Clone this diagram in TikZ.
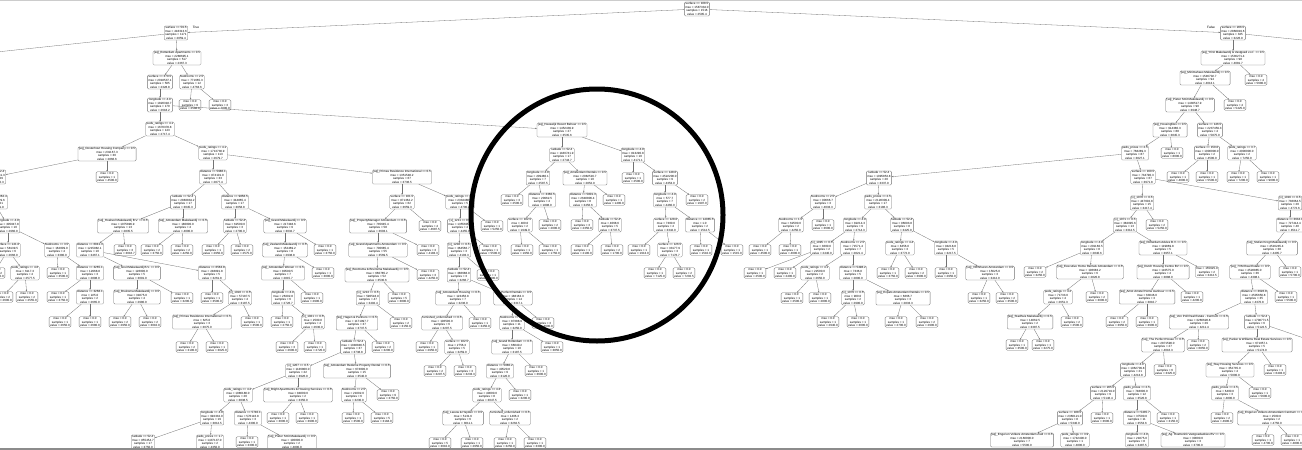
\documentclass[tikz,border=0pt]{standalone}
\usepackage{fontspec}
\setmainfont{Liberation Sans}
\usetikzlibrary{arrows.meta}
\tikzset{
 tn/.style={draw=black!55, line width=0.3pt, rounded corners=1.3pt, align=center, inner xsep=1pt, inner ysep=0.7pt, font=\fontsize{3}{3.5}\selectfont, fill=white},
 edge/.style={draw=black!55, line width=0.3pt, -{Stealth[length=1.6pt,width=1.3pt]}},
 elabel/.style={font=\fontsize{3.2}{3.6}\selectfont, inner sep=0.5pt},
 ring/.style={draw=black, line width=5pt},
}
\newcommand\IN[7]{\node[tn] (#1) at (#2,#3) {#4\\mse = #5\\samples = #6\\value = #7};}
\newcommand\LF[6]{\node[tn] (#1) at (#2,#3) {mse = #4\\samples = #5\\value = #6};}
\begin{document}
\begin{tikzpicture}[x=1pt,y=-1pt]
\useasboundingbox (0,0) rectangle (1302,450);
\clip (0,0) rectangle (1302,450);
\fill[white] (0,0) rectangle (1302,450);
% root
\IN{R}{697}{9}{surface <= 108.5}{1587334.0}{1516}{2595.4}
\IN{La}{176}{33}{surface <= 59.5}{418313.6}{1171}{2059.4}
\IN{Ra}{1233}{33}{surface <= 206.5}{2868919.6}{345}{3226.9}
\node[elabel] (tlab) at (196,27) {True};
\node[elabel] (flab) at (1211,27) {False};
\coordinate (oL1) at (-60,58);
\coordinate (oR1) at (1500,60);
\coordinate (oR2) at (1340,226);
\coordinate (oR3) at (1345,250);
\coordinate (oR4) at (1330,347);
% left part
\IN{a1}{177}{58}{[sq]\_Rotterdam Apartments <= 0.5}{2288695.1}{517}{2367.3}
\IN{a2}{160}{82}{surface <= 379.5}{2018537.1}{505}{2328.8}
\IN{a3}{192}{82}{bedrooms <= 2.5}{771665.3}{12}{4763.6}
\LF{a4}{190}{105}{0.0}{9}{2588.9}
\LF{a5}{220}{105}{0.0}{3}{7000.0}
\IN{a6}{160}{105}{longitude <= 4.9}{1820318.7}{170}{2618.2}
\IN{a7}{160}{129}{peds\_ratings <= 4.1}{1670378.8}{143}{2717.4}
\IN{a8}{107}{154}{[sq]\_Oosterhout Housing Company <= 0.5}{231167.3}{30}{2866.6}
\IN{a9}{213}{153}{peds\_ratings <= 4.1}{1713730.9}{113}{2679.7}
\LF{a10}{107}{177}{0.0}{1}{4500.0}
\IN{a11}{-6}{177}{latitude <= 52.4}{192581.3}{29}{2810.3}
\IN{a12}{-6}{202}{distance <= 4062.4}{165329.6}{21}{2741.9}
\IN{a13}{8}{226}{longitude <= 4.9}{305047.8}{10}{2960.0}
\IN{a14}{8}{250}{surface <= 141.0}{58139.5}{6}{2666.0}
\IN{a15}{57}{250}{bedrooms <= 3.5}{162009.0}{4}{3380.0}
\LF{a16}{-6}{273}{0.0}{2}{2750.0}
\IN{a17}{25}{273}{peds\_ratings <= 4.6}{6117.3}{4}{2577.5}
\LF{a18}{58}{273}{0.0}{1}{3500.0}
\IN{a19}{90}{273}{distance <= 3265.1}{12968.8}{3}{2898.0}
\LF{a20}{2}{297}{0.0}{2}{2600.0}
\LF{a21}{27}{297}{0.0}{2}{2555.0}
\LF{a22}{58}{297}{0.0}{1}{3750.0}
\IN{a23}{90}{297}{distance <= 3268.1}{225.0}{2}{2665.0}
\LF{a24}{60}{322}{0.0}{1}{2650.0}
\LF{a25}{90}{322}{0.0}{1}{2680.0}
\IN{b1}{213}{177}{distance <= 5986.1}{874101.0}{33}{2877.4}
\IN{b2}{402}{177}{[sq]\_Primas Residence International <= 0.5}{1351548.2}{67}{3736.5}
\IN{b3}{183}{202}{latitude <= 52.4}{2883834.2}{17}{3045.3}
\IN{b4}{235}{202}{distance <= 9858.5}{344865.4}{17}{3058.8}
\IN{b5}{123}{226}{[sq]\_Hoekvel Makelaardij B.V. <= 0.5}{1075896.9}{13}{2835.5}
\IN{b6}{183}{226}{[sq]\_Amsterdam Makelaardij <= 0.5}{180000.0}{4}{4000.0}
\IN{b7}{235}{226}{latitude <= 52.4}{62500.0}{3}{2700.0}
\IN{b8}{285}{226}{[sq]\_Grand Makelaardij <= 0.5}{217348.6}{9}{3032.7}
\IN{b9}{90}{250}{distance <= 6041.3}{1215982.1}{10}{3467.1}
\LF{b10}{125}{250}{0.0}{3}{3016.7}
\LF{b11}{152}{250}{0.0}{2}{3750.0}
\LF{b12}{182}{250}{0.0}{2}{4250.0}
\LF{b13}{213}{250}{0.0}{1}{2950.0}
\LF{b14}{242}{250}{0.0}{2}{2575.0}
\IN{b15}{285}{250}{[sq]\_Zeeland Makelaardij <= 0.5}{152469.2}{8}{2938.8}
\LF{b16}{325}{250}{0.0}{1}{3750.0}
\IN{b17}{137}{273}{[sq]\_Gruit Makelaardij B.V. <= 0.5}{126000.0}{5}{3091.0}
\IN{b18}{212}{273}{distance <= 6563.8}{248891.8}{5}{3261.8}
\IN{b19}{283}{273}{[sq]\_Amsterdam Wonen <= 0.5}{80590.5}{7}{2815.7}
\LF{b20}{323}{273}{0.0}{1}{3000.0}
\IN{b21}{137}{297}{[sq]\_Bruinsma Makelaardij <= 0.5}{31875.0}{4}{2980.0}
\LF{b22}{182}{298}{0.0}{1}{3200.0}
\LF{b23}{212}{298}{0.0}{1}{3500.0}
\IN{b24}{240}{298}{[x]\_1018 <= 0.5}{57187.5}{4}{3187.5}
\IN{b25}{283}{298}{longitude <= 4.9}{26302.8}{6}{2726.7}
\LF{b26}{312}{298}{0.0}{1}{2900.0}
\LF{b27}{120}{322}{0.0}{2}{2950.0}
\LF{b28}{150}{322}{0.0}{2}{3010.0}
\IN{b29}{202}{322}{[sq]\_Primas Residence International <= 0.5}{625.0}{3}{3075.0}
\LF{b30}{252}{322}{0.0}{1}{3500.0}
\LF{b31}{282}{322}{0.0}{1}{2750.0}
\IN{b32}{313}{322}{[x]\_1021 <= 0.5}{2500.0}{4}{2630.0}
\LF{b33}{187}{347}{0.0}{2}{3100.0}
\LF{b34}{217}{347}{0.0}{1}{3025.0}
\LF{b35}{287}{347}{0.0}{3}{2600.0}
\LF{b36}{315}{347}{0.0}{1}{2720.0}
\IN{c1}{402}{202}{surface <= 101.5}{871362.2}{62}{3659.3}
\IN{c2}{460}{202}{peds\_ratings <= 4.6}{2334480.0}{5}{4700.0}
\IN{c3}{378}{226}{[sq]\_PropertyManager Amsterdam <= 0.5}{735645.4}{58}{3603.1}
\LF{c4}{430}{226}{0.0}{4}{4687.5}
\IN{c5}{460}{226}{[x]\_1211 <= 0.5}{1355605.6}{4}{4455.0}
\LF{c6}{492}{226}{0.0}{1}{5250.0}
\IN{c7}{378}{250}{[sq]\_Grand Apartments Amsterdam <= 0.5}{700685.4}{55}{3569.5}
\LF{c8}{428}{250}{0.0}{3}{4183.3}
\IN{c9}{459}{250}{[x]\_1204 <= 0.5}{364566.7}{3}{4103.3}
\LF{c10}{490}{250}{0.0}{1}{5500.0}
\IN{c11}{377}{275}{[sq]\_Boomsma \& Bruinsma Makelaardij <= 0.5}{660785.2}{52}{3530.6}
\LF{c12}{428}{275}{0.0}{3}{4250.0}
\IN{c13}{459}{275}{latitude <= 52.4}{386688.9}{3}{3266.7}
\LF{c14}{488}{275}{0.0}{1}{3900.0}
\IN{c15}{368}{298}{[x]\_1213 <= 0.5}{590518.9}{47}{3492.4}
\LF{c16}{399}{298}{0.0}{5}{3890.0}
\IN{c17}{458}{298}{[sq]\_Amsterdam Housing <= 0.5}{123456.8}{7}{3236.0}
\IN{c18}{513}{298}{[sq]\_Perfect Rentals <= 0.5}{188163.3}{14}{3317.1}
\IN{c19}{357}{323}{[sq]\_Hagen \& Partners <= 0.5}{1171997.7}{37}{3737.5}
\LF{c20}{401}{323}{0.0}{2}{3150.0}
\IN{c21}{442}{323}{furnished\_unfurnished <= 0.5}{106500.0}{6}{3207.5}
\LF{c22}{480}{323}{0.0}{1}{3450.0}
\IN{c23}{512}{323}{bedrooms <= 2.5}{87388.9}{11}{3250.0}
\LF{c24}{543}{323}{0.0}{3}{3600.0}
\IN{c25}{353}{347}{latitude <= 52.4}{1048846.5}{37}{3738.8}
\LF{c26}{383}{347}{0.0}{2}{3200.0}
\LF{c27}{427}{347}{0.0}{1}{2950.0}
\IN{c28}{457}{347}{surface <= 102.5}{2756.3}{5}{3259.0}
\IN{c29}{512}{347}{[sq]\_Grand Rotterdam <= 0.5}{66040.2}{10}{3187.5}
\LF{c30}{552}{347}{0.0}{1}{3850.0}
\IN{c31}{298}{371}{[x]\_1207 <= 0.5}{1136800.0}{22}{3926.9}
\IN{c32}{357}{371}{[sq]\_Amsterdam Rederne Property Rental <= 0.5}{673000.0}{15}{3540.0}
\LF{c33}{435}{371}{0.0}{2}{3297.5}
\LF{c34}{465}{371}{0.0}{3}{3233.3}
\IN{c35}{500}{371}{distance <= 5080.2}{40520.8}{9}{3120.0}
\LF{c36}{536}{371}{0.0}{1}{3600.0}
\IN{c37}{238}{395}{peds\_ratings <= 4.2}{1086180.0}{20}{3838.5}
\IN{c38}{298}{395}{[sq]\_Bright Apartments \& Housing Services <= 0.5}{84000.0}{2}{3350.0}
\IN{c39}{354}{395}{bedrooms <= 2.5}{21002.0}{6}{3230.0}
\LF{c40}{388}{395}{0.0}{9}{3750.0}
\IN{c41}{487}{395}{peds\_ratings <= 4.3}{40000.0}{8}{3047.5}
\LF{c42}{520}{395}{0.0}{1}{3200.0}
\IN{c43}{212}{418}{longitude <= 4.9}{992332.0}{19}{3812.5}
\IN{c44}{248}{418}{distance <= 5740.1}{576116.8}{3}{4300.0}
\LF{c45}{278}{418}{0.0}{1}{3000.0}
\LF{c46}{307}{418}{0.0}{1}{3900.0}
\LF{c47}{353}{418}{0.0}{1}{3500.0}
\LF{c48}{382}{418}{0.0}{5}{3184.0}
\IN{c49}{463}{418}{[sq]\_Leeuw \& Heyden <= 0.5}{5131.6}{6}{3011.1}
\IN{c50}{510}{418}{furnished\_unfurnished <= 0.5}{1406.3}{2}{3262.5}
\IN{c51}{143}{442}{latitude <= 52.4}{855454.7}{17}{3750.0}
\IN{c52}{210}{442}{peds\_prices <= 1.7}{1437137.0}{2}{4350.0}
\LF{c53}{247}{442}{0.0}{1}{3300.0}
\IN{c54}{292}{442}{[sq]\_Pieter Smit Makelaardij <= 0.5}{100000.0}{2}{4800.0}
\LF{c55}{440}{443}{0.0}{5}{3010.0}
\LF{c56}{472}{443}{0.0}{1}{2950.0}
\LF{c57}{505}{443}{0.0}{1}{3250.0}
\LF{c58}{535}{443}{0.0}{1}{3300.0}
% circle region
\IN{d1}{562}{130}{[sq]\_Heeswijk Resort Beheer <= 0.5}{1452439.9}{27}{3535.6}
\IN{d2}{562}{155}{latitude <= 52.4}{1180741.9}{17}{2743.7}
\IN{d3}{633}{155}{longitude <= 4.9}{813290.8}{10}{4171.1}
\IN{d4}{538}{178}{longitude <= 4.9}{209480.1}{7}{2587.5}
\IN{d5}{585}{178}{[sq]\_Amsterdam Rentals <= 0.5}{2082516.7}{10}{2852.9}
\LF{d6}{633}{178}{0.0}{1}{2500.0}
\IN{d7}{665}{178}{surface <= 148.0}{4522200.0}{9}{4353.0}
\LF{d8}{512}{200}{0.0}{3}{2500.0}
\IN{d9}{542}{200}{distance <= 3360.5}{20962.5}{4}{1898.0}
\IN{d10}{583}{200}{distance <= 5801.3}{2640806.4}{8}{3456.6}
\LF{d11}{614}{200}{0.0}{1}{1400.0}
\IN{d12}{665}{200}{longitude <= 4.9}{577.7}{7}{4460.0}
\LF{d13}{697}{200}{0.0}{2}{1997.0}
\IN{d14}{520}{225}{surface <= 102.5}{400.0}{2}{1949.0}
\LF{d15}{550}{225}{0.0}{2}{2000.0}
\LF{d16}{582}{225}{0.0}{3}{2350.0}
\IN{d17}{610}{225}{latitude <= 52.4}{4068.6}{5}{3737.5}
\IN{d18}{666}{225}{surface <= 128.0}{7300.0}{4}{3342.0}
\IN{d19}{700}{225}{distance <= 14085.5}{1.0}{2}{1512.5}
\LF{d20}{522}{250}{0.0}{1}{1950.0}
\LF{d21}{550}{250}{0.0}{1}{1750.0}
\LF{d22}{582}{250}{0.0}{1}{2100.0}
\LF{d23}{612}{250}{0.0}{2}{1700.0}
\LF{d24}{639}{250}{0.0}{1}{1913.0}
\IN{d25}{670}{250}{surface <= 126.5}{33177.9}{3}{7176.7}
\LF{d26}{701}{250}{0.0}{1}{1510.0}
\LF{d27}{732}{250}{0.0}{1}{1515.0}
\LF{d28}{655}{273}{0.0}{1}{7125.0}
\LF{d29}{684}{273}{0.0}{2}{7202.5}
% right part
\IN{e1}{1233}{58}{[sq]\_YOU Makelaardij \& Vastgoed v.o.f. <= 0.5}{1536271.4}{98}{4081.7}
\IN{e2}{1205}{78}{[sq]\_Minimahaus Makelaardij <= 0.5}{1546702.7}{94}{4013.1}
\LF{e3}{1256}{80}{0.0}{4}{5680.0}
\IN{e4}{1190}{105}{[sq]\_Pieter Smit Makelaardij <= 0.5}{1430517.9}{90}{3948.7}
\LF{e5}{1235}{105}{0.0}{4}{5425.0}
\IN{e6}{1170}{130}{[sq]\_Housingfiles <= 0.5}{914380.3}{88}{3845.3}
\IN{e7}{1210}{130}{surface <= 146.5}{2237459.3}{4}{5875.0}
\IN{e8}{1135}{153}{peds\_prices <= 2.5}{768289.3}{87}{3827.1}
\LF{e9}{1172}{153}{0.0}{1}{8000.0}
\IN{e10}{1207}{153}{surface <= 150.0}{1000000.0}{2}{4500.0}
\IN{e11}{1242}{153}{peds\_ratings <= 3.7}{4000000.0}{2}{7250.0}
\LF{e12}{1178}{177}{0.0}{1}{4000.0}
\LF{e13}{1207}{177}{0.0}{1}{5500.0}
\LF{e14}{1238}{177}{0.0}{1}{7200.0}
\LF{e15}{1268}{177}{0.0}{1}{9000.0}
\IN{e16}{879}{178}{latitude <= 52.4}{1095853.8}{20}{3337.9}
\IN{e17}{1143}{177}{surface <= 160.5}{734790.3}{67}{3971.8}
\IN{e18}{1142}{203}{[x]\_1070 <= 0.5}{447602.8}{15}{3417.4}
\IN{e19}{1290}{203}{[x]\_1016 <= 0.5}{736064.5}{20}{4772.6}
\IN{e20}{1125}{225}{[x]\_1071 <= 0.5}{382095.6}{13}{3312.5}
\LF{e21}{1157}{225}{0.0}{2}{5250.0}
\IN{e22}{1290}{225}{distance <= 3634.0}{727414.4}{40}{4511.7}
\IN{e23}{1092}{248}{longitude <= 4.9}{201160.5}{8}{2840.6}
\IN{e24}{1163}{248}{[sq]\_Rotterdam Advies B.V. <= 0.5}{119869.8}{5}{3957.1}
\IN{e25}{1272}{248}{[sq]\_Stefan Krogt Makelaardij <= 0.5}{4516245.4}{38}{4405.7}
\LF{e26}{1035}{272}{0.0}{2}{3250.0}
\IN{e27}{1090}{272}{[sq]\_Executive Home Rentals Amsterdam <= 0.5}{106683.2}{6}{2820.8}
\IN{e28}{1163}{272}{[sq]\_Dutch Housing Centre BV <= 0.5}{110575.0}{4}{3888.0}
\LF{e29}{1207}{272}{155625.0}{2}{3412.5}
\IN{e30}{1250}{272}{[sq]\_7VM Real Estate <= 0.5}{4528885.0}{36}{4398.1}
\LF{e31}{1290}{272}{0.0}{1}{5700.0}
\IN{e32}{1058}{297}{peds\_ratings <= 4.2}{71733.0}{4}{2651.3}
\LF{e33}{1097}{297}{0.0}{2}{3000.0}
\IN{e34}{1147}{297}{[sq]\_Amst Amstel Home Aanhuur <= 0.5}{63046.0}{3}{3810.7}
\LF{e35}{1192}{297}{0.0}{1}{4200.0}
\IN{e36}{1254}{297}{distance <= 3626.8}{4505650.8}{35}{4370.8}
\LF{e37}{1286}{297}{0.0}{1}{5500.0}
\IN{e38}{1030}{322}{[sq]\_Stadhuis Makelaardij <= 0.5}{14062.5}{2}{3387.5}
\LF{e39}{1072}{322}{0.0}{2}{2500.0}
\LF{e40}{1117}{322}{0.0}{2}{3950.0}
\LF{e41}{1147}{322}{0.0}{1}{3900.0}
\IN{e42}{1199}{322}{[sq]\_Von Poll Real Estate - Centrum <= 0.5}{3266628.8}{29}{4211.4}
\IN{e43}{1257}{322}{latitude <= 52.4}{1708771.5}{6}{5122.5}
\LF{e44}{1017}{345}{0.0}{1}{3500.0}
\LF{e45}{1043}{345}{0.0}{1}{3275.0}
\IN{e46}{1163}{345}{[sq]\_The Perfect House <= 0.5}{2871590.0}{27}{4016.3}
\LF{e47}{1198}{345}{0.0}{2}{6850.0}
\IN{e48}{1257}{345}{[sq]\_Parker \& Williams Real Estate Services <= 0.5}{671057.1}{5}{5174.0}
\IN{e49}{1133}{370}{longitude <= 4.9}{1962709.8}{21}{4213.8}
\LF{e50}{1165}{370}{0.0}{6}{3325.0}
\IN{e51}{1230}{370}{[sq]\_Stay Housing Services <= 0.5}{352735.0}{4}{5000.0}
\LF{e52}{1275}{370}{0.0}{1}{6493.0}
\IN{e53}{1103}{393}{surface <= 205.5}{2129719.0}{9}{5146.4}
\IN{e54}{1137}{393}{peds\_prices <= 2.5}{748000.0}{12}{3520.8}
\IN{e55}{1225}{393}{peds\_prices <= 2.5}{6400.0}{3}{4800.0}
\LF{e56}{1260}{393}{0.0}{1}{5600.0}
\IN{e57}{1070}{418}{surface <= 188.5}{2360121.0}{8}{5340.0}
\LF{e58}{1102}{418}{0.0}{1}{3600.0}
\IN{e59}{1137}{418}{distance <= 5435.7}{37500.0}{11}{3553.6}
\LF{e60}{1168}{418}{0.0}{1}{3150.0}
\LF{e61}{1222}{418}{0.0}{2}{4900.0}
\IN{e62}{1272}{418}{[sq]\_Engel en Volkers Amsterdam Centrum <= 0.5}{2500.0}{2}{4750.0}
\IN{e63}{1022}{440}{[sq]\_Engel en Volkers Amsterdam Zuid <= 0.5}{2160000.0}{7}{5500.0}
\IN{e64}{1075}{440}{peds\_ratings <= 3.9}{1742400.0}{1}{4800.0}
\IN{e65}{1137}{440}{longitude <= 4.9}{21875.0}{8}{3487.5}
\IN{e66}{1193}{440}{[sq]\_Ag. Roetterink Vastgoedadvies BV <= 0.5}{30000.0}{3}{3700.0}
\LF{e67}{1263}{440}{0.0}{1}{4700.0}
\LF{e68}{1292}{440}{0.0}{1}{4800.0}
\IN{f1}{823}{202}{bedrooms <= 2.5}{90666.7}{3}{4033.3}
\IN{f2}{878}{202}{peds\_prices <= 2.5}{2128309.4}{17}{3186.3}
\IN{f3}{791}{225}{bedrooms <= 1.5}{62500.0}{2}{4250.0}
\LF{f4}{823}{225}{0.0}{1}{3600.0}
\IN{f5}{855}{225}{longitude <= 4.9}{82214.3}{9}{2714.3}
\IN{f6}{902}{225}{latitude <= 52.4}{96093.8}{8}{3425.0}
\LF{f7}{760}{250}{0.0}{1}{4500.0}
\LF{f8}{790}{250}{0.0}{1}{4000.0}
\IN{f9}{822}{248}{[x]\_1095 <= 0.5}{3600.0}{2}{2440.0}
\IN{f10}{853}{248}{bedrooms <= 2.5}{71571.4}{7}{2821.4}
\IN{f11}{900}{248}{peds\_ratings <= 4.4}{8456.0}{3}{3772.0}
\IN{f12}{946}{248}{longitude <= 4.9}{94218.8}{5}{3217.5}
\LF{f13}{755}{273}{0.0}{1}{2500.0}
\LF{f14}{785}{273}{0.0}{1}{2400.0}
\IN{f15}{815}{273}{peds\_ratings <= 4.1}{22500.0}{2}{2650.0}
\IN{f16}{853}{273}{distance <= 5498.2}{7336.0}{5}{2890.0}
\LF{f17}{888}{273}{0.0}{1}{3750.0}
\LF{f18}{916}{273}{0.0}{2}{3900.0}
\LF{f19}{946}{273}{0.0}{1}{2950.0}
\IN{f20}{990}{273}{[sq]\_VDWhuren Amsterdam <= 0.5}{15625.0}{3}{3412.0}
\LF{f21}{792}{298}{0.0}{1}{2500.0}
\LF{f22}{820}{298}{0.0}{1}{2800.0}
\IN{f23}{853}{298}{[x]\_1079 <= 0.5}{900.0}{2}{2990.0}
\IN{f24}{903}{298}{[sq]\_Expats Amsterdam Rentals <= 0.5}{6666.7}{3}{2833.3}
\LF{f25}{979}{298}{0.0}{1}{3250.0}
\LF{f26}{1007}{298}{0.0}{2}{3500.0}
\LF{f27}{828}{322}{0.0}{1}{2940.0}
\LF{f28}{858}{322}{0.0}{1}{3000.0}
\LF{f29}{896}{322}{0.0}{1}{2700.0}
\LF{f30}{927}{322}{0.0}{2}{2900.0}
% connectors
\foreach \p/\q in {R/La, R/Ra, La/oL1, La/a1, a1/a2, a1/a3, a3/a4, a3/a5, a2/a6, a6/a7, a6/d1, a7/a8, a7/a9, a8/a11, a8/a10, a11/a12, a12/a13, a13/a14, a13/a15, a14/a16, a14/a17, a15/a18, a15/a19, a17/a20, a17/a21, a19/a22, a19/a23, a23/a24, a23/a25,
 a9/b1, a9/b2, b1/b3, b1/b4, b3/b5, b3/b6, b4/b7, b4/b8, b5/b9, b5/b10, b6/b11, b6/b12, b7/b13, b7/b14, b8/b15, b8/b16, b9/b17, b9/b18, b15/b19, b15/b20, b17/b21, b17/b22, b18/b23, b18/b24, b19/b25, b19/b26, b21/b27, b21/b28, b24/b29, b24/b30, b25/b31, b25/b32, b29/b33, b29/b34, b32/b35, b32/b36,
 b2/c1, b2/c2, c1/c3, c1/c4, c2/c5, c2/c6, c3/c7, c3/c8, c5/c9, c5/c10, c7/c11, c7/c12, c9/c13, c9/c14, c11/c15, c11/c16, c13/c17, c13/c18, c15/c19, c15/c20, c17/c21, c17/c22, c18/c23, c18/c24, c19/c25, c19/c26, c21/c27, c21/c28, c23/c29, c23/c30, c25/c31, c25/c32, c28/c33, c28/c34, c29/c35, c29/c36, c31/c37, c31/c38, c32/c39, c32/c40, c35/c41, c35/c42, c37/c43, c37/c44, c38/c45, c38/c46, c39/c47, c39/c48, c41/c49, c41/c50, c43/c51, c43/c52, c44/c53, c44/c54, c49/c55, c49/c56, c50/c57, c50/c58,
 d1/d2, d1/d3, d2/d4, d2/d5, d3/d6, d3/d7, d4/d8, d4/d9, d5/d10, d5/d11, d7/d12, d7/d13, d9/d14, d9/d15, d10/d16, d10/d17, d12/d18, d12/d19, d14/d20, d14/d21, d17/d22, d17/d23, d18/d24, d18/d25, d19/d26, d19/d27, d25/d28, d25/d29,
 Ra/e1, Ra/oR1, e1/e2, e1/e3, e2/e4, e2/e5, e4/e6, e4/e7, e6/e8, e6/e9, e7/e10, e7/e11, e10/e12, e10/e13, e11/e14, e11/e15, e8/e16, e8/e17, e17/e18, e17/e19, e18/e20, e18/e21, e19/e22, e19/oR2, e20/e23, e20/e24, e22/e25, e22/oR3, e23/e26, e23/e27, e24/e28, e24/e29, e25/e30, e25/e31, e27/e32, e27/e33, e28/e34, e28/e35, e30/e36, e30/e37, e32/e38, e32/e39, e34/e40, e34/e41, e36/e42, e36/e43, e38/e44, e38/e45, e42/e46, e42/e47, e43/e48, e43/oR4, e46/e49, e46/e50, e48/e51, e48/e52, e49/e53, e49/e54, e51/e55, e51/e56, e53/e57, e53/e58, e54/e59, e54/e60, e55/e61, e55/e62, e57/e63, e57/e64, e59/e65, e59/e66, e62/e67, e62/e68,
 e16/f1, e16/f2, f1/f3, f1/f4, f2/f5, f2/f6, f3/f7, f3/f8, f5/f9, f5/f10, f6/f11, f6/f12, f9/f13, f9/f14, f10/f15, f10/f16, f11/f17, f11/f18, f12/f19, f12/f20, f15/f21, f15/f22, f16/f23, f16/f24, f20/f25, f20/f26, f23/f27, f23/f28, f24/f29, f24/f30}
 {\draw[edge] (\p) -- (\q);}
% overlay ring and frame lines
\draw[ring] (597,215) circle (126pt);
\draw[black!20, line width=0.8pt] (0,0.4) -- (1302,0.4);
\draw[black!45, line width=1.5pt] (0,449.2) -- (1302,449.2);
\end{tikzpicture}
\end{document}
